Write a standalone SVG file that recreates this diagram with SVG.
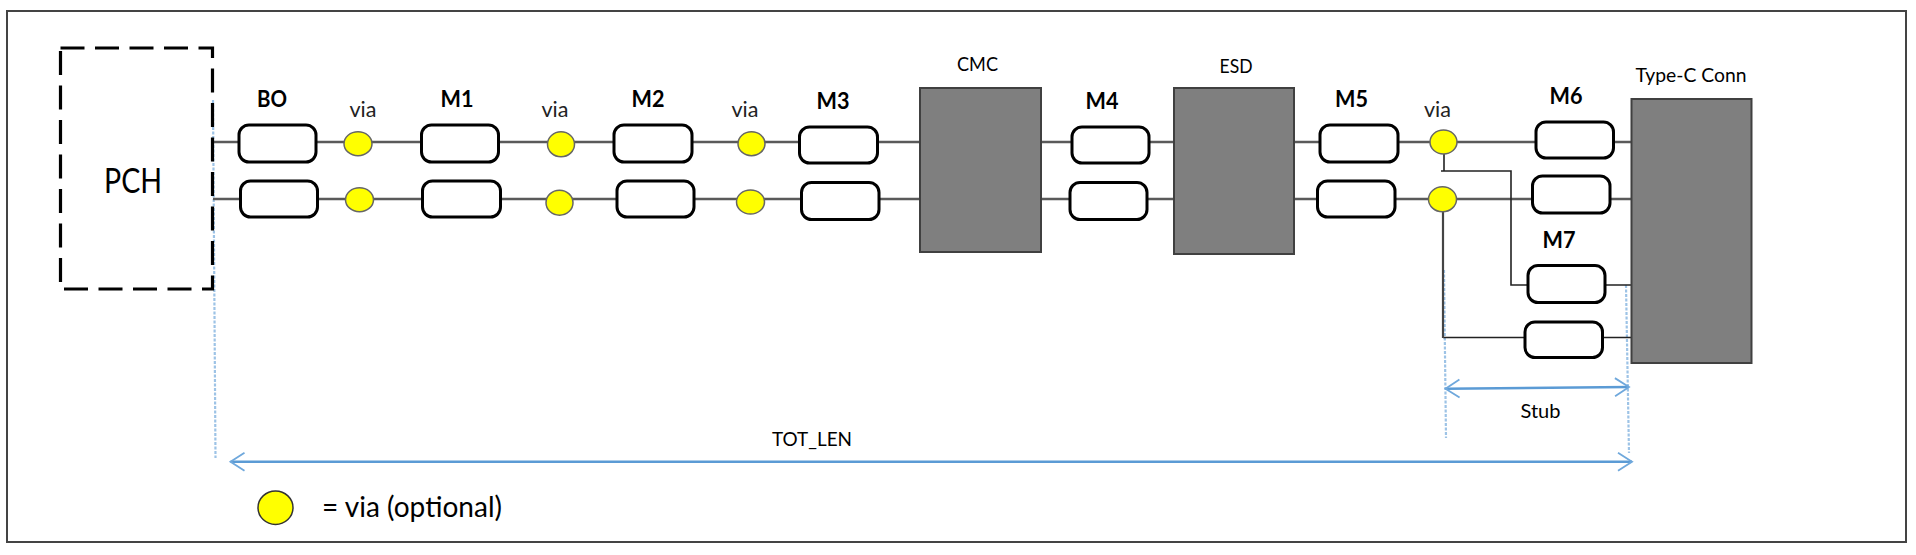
<svg xmlns="http://www.w3.org/2000/svg" width="1916" height="555" viewBox="0 0 1916 555">
<style>
text{font-family:Lato,"Liberation Sans",sans-serif;fill:#000;text-anchor:middle}
.b{font-weight:700;font-size:23px}
.v{font-size:21px;fill:#222}
.l{font-size:20px}
.box{fill:#fff;stroke:#000;stroke-width:3}
.via{fill:#ff0;stroke:#666;stroke-width:1.5}
.blk{fill:#7f7f7f;stroke:#404040;stroke-width:2}
.w{fill:none;stroke:#5a5a5a;stroke-width:2.5}
.t{fill:none;stroke:#222;stroke-width:1.6}
.d{fill:none;stroke:#9dc3e6;stroke-width:2.2;stroke-dasharray:3 1.500}
.a{fill:none;stroke:#5b9bd5;stroke-width:2.4;marker-start:url(#h);marker-end:url(#h)}
</style>
<defs>
<marker id="h" markerUnits="userSpaceOnUse" markerWidth="20" markerHeight="24" refX="16" refY="12" orient="auto-start-reverse"><path d="M2 3L16 12L2 21" fill="none" stroke="#6fa8dc" stroke-width="1.8"/></marker>
</defs>
<rect width="1916" height="555" fill="#fff"/>
<rect id="frame" x="7" y="11" width="1899" height="531" fill="none" stroke="#444" stroke-width="2"/>
<g id="connectors">
<path class="d" d="M213 100L215.500 458M1444 270L1446 438M1626 285L1629 453"/>
<path class="w" d="M213 142H920M213 199H920M1040 142H1174M1040 199H1174M1294 142H1632M1294 199H1632"/>
<path class="t" d="M1444 154V171M1441 171H1511V285H1528M1605 285H1633M1443 337.500H1525M1602 337.500H1632"/>
<path d="M1443 211V338" fill="none" stroke="#444" stroke-width="2.2"/>
<path class="a" d="M1445.500 388.700L1629 387"/>
<path class="a" d="M230.500 461.700H1632"/>
</g>
<g id="pch"><rect x="60.500" y="48" width="152" height="241" fill="none" stroke="#000" stroke-width="3.200" stroke-dasharray="24 10.500"/><text x="133" y="193" font-size="34" textLength="58" lengthAdjust="spacingAndGlyphs">PCH</text></g>
<g id="cmc"><rect class="blk" x="920" y="88" width="121" height="164"/><text class="l" x="977.500" y="71" textLength="41" lengthAdjust="spacingAndGlyphs">CMC</text></g>
<g id="esd"><rect class="blk" x="1174" y="88" width="120" height="166"/><text class="l" x="1236" y="73" textLength="33" lengthAdjust="spacingAndGlyphs">ESD</text></g>
<g id="type-c"><rect class="blk" x="1631.500" y="99" width="120" height="264"/><text class="l" x="1691" y="82" textLength="111" lengthAdjust="spacingAndGlyphs">Type-C Conn</text></g>
<g id="bo-p"><rect class="box" x="239" y="125" width="77" height="37" rx="10"/><text class="b" x="272" y="107" textLength="30" lengthAdjust="spacingAndGlyphs">BO</text></g>
<g id="bo-n"><rect class="box" x="240.500" y="181" width="77" height="36" rx="10"/></g>
<g id="m1-p"><rect class="box" x="421.500" y="125" width="77" height="37" rx="10"/><text class="b" x="457" y="107" textLength="33" lengthAdjust="spacingAndGlyphs">M1</text></g>
<g id="m1-n"><rect class="box" x="422.500" y="181" width="78" height="36" rx="10"/></g>
<g id="m2-p"><rect class="box" x="614" y="125" width="78" height="37" rx="10"/><text class="b" x="648" y="107" textLength="33" lengthAdjust="spacingAndGlyphs">M2</text></g>
<g id="m2-n"><rect class="box" x="617" y="181" width="77" height="36" rx="10"/></g>
<g id="m3-p"><rect class="box" x="799.500" y="127" width="78" height="36" rx="10"/><text class="b" x="833" y="109" textLength="33" lengthAdjust="spacingAndGlyphs">M3</text></g>
<g id="m3-n"><rect class="box" x="801.500" y="182.500" width="77.500" height="37" rx="10"/></g>
<g id="m4-p"><rect class="box" x="1072" y="127" width="77" height="36" rx="10"/><text class="b" x="1102" y="109" textLength="33" lengthAdjust="spacingAndGlyphs">M4</text></g>
<g id="m4-n"><rect class="box" x="1070" y="182.500" width="77" height="37" rx="10"/></g>
<g id="m5-p"><rect class="box" x="1320" y="125" width="78" height="37" rx="10"/><text class="b" x="1351.500" y="107" textLength="33" lengthAdjust="spacingAndGlyphs">M5</text></g>
<g id="m5-n"><rect class="box" x="1317.500" y="181" width="77.500" height="36" rx="10"/></g>
<g id="m6-p"><rect class="box" x="1536" y="122" width="77.500" height="36" rx="10"/><text class="b" x="1566" y="104" textLength="33" lengthAdjust="spacingAndGlyphs">M6</text></g>
<g id="m6-n"><rect class="box" x="1532.500" y="176" width="77.500" height="37" rx="10"/></g>
<g id="m7-p"><rect class="box" x="1528" y="265.500" width="77" height="37" rx="10"/><text class="b" x="1559" y="248" textLength="33" lengthAdjust="spacingAndGlyphs">M7</text></g>
<g id="m7-n"><rect class="box" x="1525" y="322" width="77.500" height="35.500" rx="10"/></g>
<g id="via-1"><ellipse class="via" cx="358" cy="143.700" rx="14" ry="12"/><text class="v" x="363" y="117" textLength="27" lengthAdjust="spacingAndGlyphs">via</text></g>
<g id="via-1n"><ellipse class="via" cx="359.500" cy="199.700" rx="14" ry="12"/></g>
<g id="via-2"><ellipse class="via" cx="561" cy="144.300" rx="13.500" ry="12.500"/><text class="v" x="555" y="117" textLength="27" lengthAdjust="spacingAndGlyphs">via</text></g>
<g id="via-2n"><ellipse class="via" cx="559.500" cy="202.700" rx="13.500" ry="12.500"/></g>
<g id="via-3"><ellipse class="via" cx="751.500" cy="143.700" rx="13.500" ry="12"/><text class="v" x="745" y="117" textLength="27" lengthAdjust="spacingAndGlyphs">via</text></g>
<g id="via-3n"><ellipse class="via" cx="750.500" cy="202" rx="14" ry="12"/></g>
<g id="via-5"><ellipse class="via" cx="1443.500" cy="142" rx="13.500" ry="12"/><text class="v" x="1437.500" y="117" textLength="27" lengthAdjust="spacingAndGlyphs">via</text></g>
<g id="via-5n"><ellipse class="via" cx="1442.500" cy="199.300" rx="14" ry="12.500"/></g>
<text class="l" x="1540.500" y="418" textLength="40" lengthAdjust="spacingAndGlyphs">Stub</text>
<text class="l" x="812" y="446" textLength="80" lengthAdjust="spacingAndGlyphs">TOT_LEN</text>
<g id="legend"><ellipse cx="275.500" cy="507.700" rx="17.500" ry="16.700" fill="#ff0" stroke="#333" stroke-width="1.500"/><text x="412" y="516.700" font-size="29" textLength="180" lengthAdjust="spacingAndGlyphs">= via (optional)</text></g>
</svg>
